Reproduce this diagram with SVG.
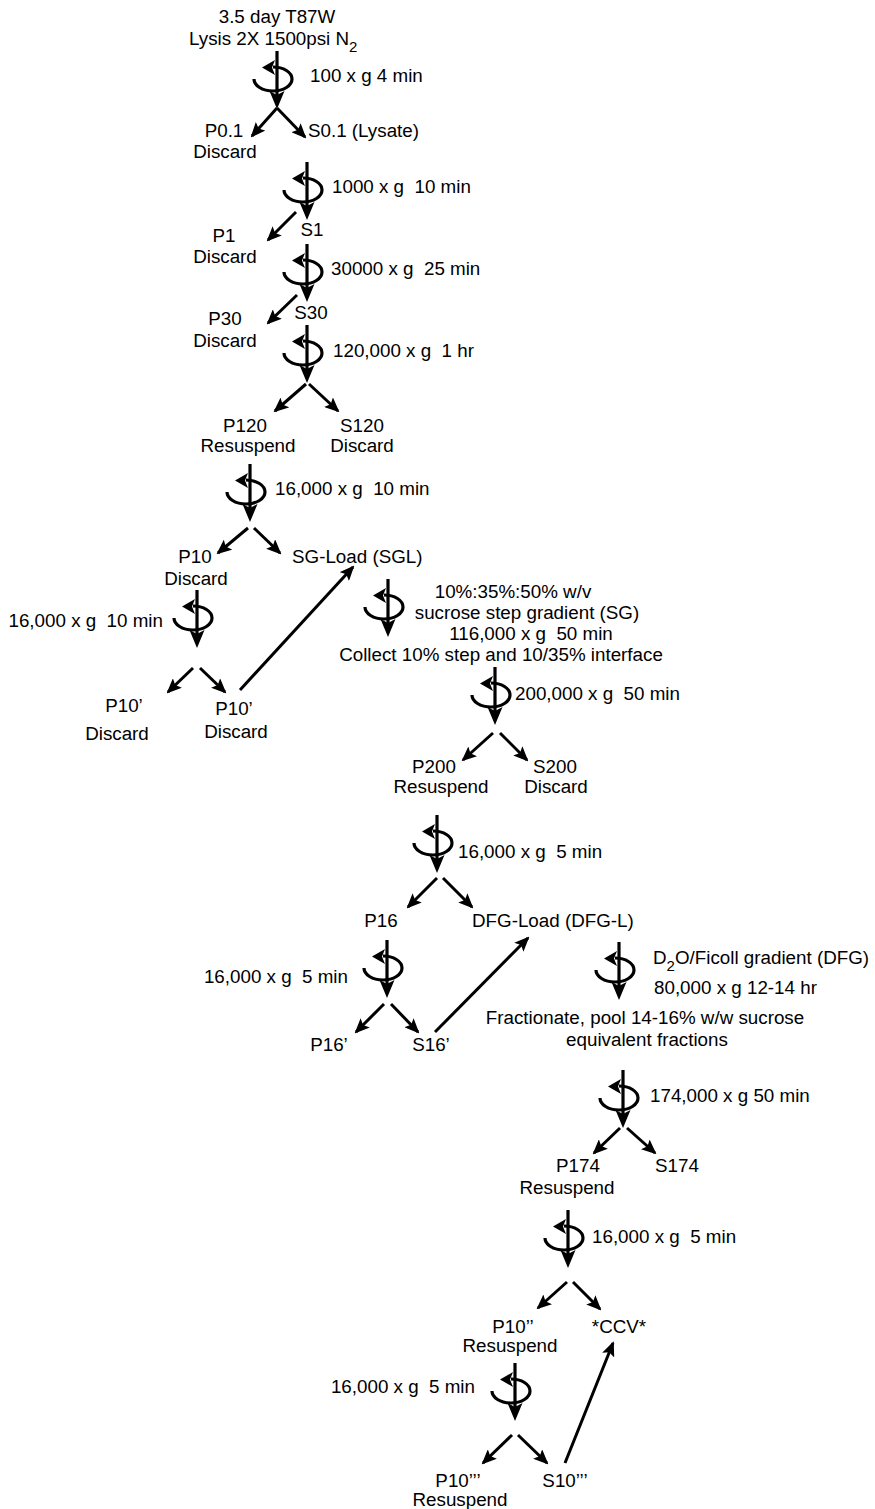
<svg xmlns="http://www.w3.org/2000/svg" xmlns:xlink="http://www.w3.org/1999/xlink" width="875" height="1509" viewBox="0 0 875 1509">
<style>
text{font-family:"Liberation Sans",Arial,sans-serif;font-size:18.8px;fill:#000;white-space:pre}
.m{text-anchor:middle}
.e{text-anchor:end}
.cn line{stroke:#000;stroke-width:3;fill:none}
.cf-line{stroke:#000;stroke-width:3.2;fill:none}
.cf-curl{stroke:#000;stroke-width:3.2;fill:none}
</style>
<defs>
<marker id="ah" viewBox="0 0 15 13" refX="13" refY="6.5" markerWidth="15" markerHeight="13" markerUnits="userSpaceOnUse" orient="auto">
<path d="M0,0 L15,6.5 L0,13 L3,6.5 z" fill="#000"/>
</marker>
<g id="cf">
<path class="cf-line" d="M0,0 V45"/>
<polygon points="-7.5,40 0,44 7.5,40 0,58" fill="#000"/>
<path class="cf-curl" d="M-23,28 A19,12 0 1 0 -4,16"/>
<polygon points="-15,16.5 -2,9 -5,16.5 -2,24" fill="#000"/>
</g>
</defs>

<g id="start">
<text class="m" x="277" y="23">3.5 day T87W</text>
<text x="189" y="45">Lysis 2X 1500psi N<tspan dy="7" font-size="15">2</tspan></text>
</g>

<g id="c1"><use xlink:href="#cf" x="277" y="51"/><text x="310" y="82">100 x g 4 min</text></g>
<g id="p01"><text class="m" x="224" y="137">P0.1</text><text class="m" x="225" y="158">Discard</text></g>
<g id="s01"><text x="308" y="137">S0.1 (Lysate)</text></g>

<g id="c2"><use xlink:href="#cf" x="307" y="162"/><text x="332" y="193">1000 x g  10 min</text></g>
<g id="s1"><text class="m" x="312" y="236">S1</text></g>
<g id="p1"><text class="m" x="224" y="242">P1</text><text class="m" x="225" y="263">Discard</text></g>

<g id="c3"><use xlink:href="#cf" x="307" y="244"/><text x="331" y="275">30000 x g  25 min</text></g>
<g id="s30"><text class="m" x="311" y="319">S30</text></g>
<g id="p30"><text class="m" x="225" y="325">P30</text><text class="m" x="225" y="347">Discard</text></g>

<g id="c4"><use xlink:href="#cf" x="307" y="325"/><text x="333" y="357">120,000 x g  1 hr</text></g>
<g id="p120"><text class="m" x="245" y="432">P120</text><text class="m" x="248" y="452">Resuspend</text></g>
<g id="s120"><text class="m" x="362" y="432">S120</text><text class="m" x="362" y="452">Discard</text></g>

<g id="c5"><use xlink:href="#cf" x="250" y="464"/><text x="275" y="495">16,000 x g  10 min</text></g>
<g id="p10"><text class="m" x="195" y="563">P10</text><text class="m" x="196" y="585">Discard</text></g>
<g id="sgl"><text x="292" y="563">SG-Load (SGL)</text></g>

<g id="c6"><use xlink:href="#cf" x="197" y="590"/><text class="e" x="163" y="627">16,000 x g  10 min</text></g>
<g id="p10a"><text class="m" x="124" y="712">P10’</text><text class="m" x="117" y="740">Discard</text></g>
<g id="p10b"><text class="m" x="234" y="715">P10’</text><text class="m" x="236" y="738">Discard</text></g>

<g id="c7"><use xlink:href="#cf" x="388" y="579"/>
<text class="m" x="513" y="598">10%:35%:50% w/v</text>
<text class="m" x="527" y="619">sucrose step gradient (SG)</text>
<text class="m" x="531" y="640">116,000 x g  50 min</text>
<text class="m" x="501" y="661">Collect 10% step and 10/35% interface</text></g>

<g id="c8"><use xlink:href="#cf" x="495" y="667"/><text x="515" y="700">200,000 x g  50 min</text></g>
<g id="p200"><text class="m" x="434" y="773">P200</text><text class="m" x="441" y="793">Resuspend</text></g>
<g id="s200"><text class="m" x="555" y="773">S200</text><text class="m" x="556" y="793">Discard</text></g>

<g id="c9"><use xlink:href="#cf" x="437" y="815"/><text x="458" y="858">16,000 x g  5 min</text></g>
<g id="p16"><text class="m" x="381" y="927">P16</text></g>
<g id="dfgl"><text x="472" y="927">DFG-Load (DFG-L)</text></g>

<g id="c10"><use xlink:href="#cf" x="387" y="940"/><text class="e" x="348" y="983">16,000 x g  5 min</text></g>
<g id="p16b"><text class="m" x="329" y="1051">P16’</text></g>
<g id="s16b"><text class="m" x="431" y="1051">S16’</text></g>

<g id="c11"><use xlink:href="#cf" x="619" y="942"/>
<text x="653" y="964">D<tspan dy="7" font-size="15">2</tspan><tspan dy="-7">O/Ficoll gradient (DFG)</tspan></text>
<text x="654" y="994">80,000 x g 12-14 hr</text>
<text class="m" x="645" y="1024">Fractionate, pool 14-16% w/w sucrose</text>
<text class="m" x="647" y="1046">equivalent fractions</text></g>

<g id="c12"><use xlink:href="#cf" x="623" y="1070"/><text x="650" y="1102">174,000 x g 50 min</text></g>
<g id="p174"><text class="m" x="578" y="1172">P174</text><text class="m" x="567" y="1194">Resuspend</text></g>
<g id="s174"><text class="m" x="677" y="1172">S174</text></g>

<g id="c13"><use xlink:href="#cf" x="568" y="1210"/><text x="592" y="1243">16,000 x g  5 min</text></g>
<g id="p10c"><text class="m" x="513" y="1333">P10’’</text><text class="m" x="510" y="1352">Resuspend</text></g>
<g id="ccv"><text class="m" x="619" y="1333">*CCV*</text></g>

<g id="c14"><use xlink:href="#cf" x="515" y="1363"/><text class="e" x="475" y="1393">16,000 x g  5 min</text></g>
<g id="p10d"><text class="m" x="458" y="1487">P10’’’</text><text class="m" x="460" y="1506">Resuspend</text></g>
<g id="s10d"><text class="m" x="565" y="1487">S10’’’</text></g>

<g id="connectors" class="cn">
<line x1="277" y1="108" x2="252" y2="136" marker-end="url(#ah)"/>
<line x1="277" y1="108" x2="305" y2="137" marker-end="url(#ah)"/>
<line x1="296" y1="212" x2="268" y2="240" marker-end="url(#ah)"/>
<line x1="297" y1="295" x2="268" y2="323" marker-end="url(#ah)"/>
<line x1="306" y1="384" x2="275" y2="411" marker-end="url(#ah)"/>
<line x1="309" y1="384" x2="338" y2="411" marker-end="url(#ah)"/>
<line x1="248" y1="528" x2="218" y2="553" marker-end="url(#ah)"/>
<line x1="254" y1="528" x2="280" y2="553" marker-end="url(#ah)"/>
<line x1="193" y1="668" x2="168" y2="692" marker-end="url(#ah)"/>
<line x1="200" y1="668" x2="225" y2="692" marker-end="url(#ah)"/>
<line x1="240" y1="690" x2="353" y2="567" marker-end="url(#ah)"/>
<line x1="493" y1="733" x2="463" y2="760" marker-end="url(#ah)"/>
<line x1="500" y1="733" x2="527" y2="760" marker-end="url(#ah)"/>
<line x1="437" y1="878" x2="408" y2="907" marker-end="url(#ah)"/>
<line x1="443" y1="878" x2="472" y2="907" marker-end="url(#ah)"/>
<line x1="384" y1="1004" x2="356" y2="1032" marker-end="url(#ah)"/>
<line x1="391" y1="1004" x2="418" y2="1032" marker-end="url(#ah)"/>
<line x1="435" y1="1032" x2="528" y2="938" marker-end="url(#ah)"/>
<line x1="620" y1="1128" x2="594" y2="1153" marker-end="url(#ah)"/>
<line x1="627" y1="1128" x2="655" y2="1153" marker-end="url(#ah)"/>
<line x1="567" y1="1282" x2="538" y2="1308" marker-end="url(#ah)"/>
<line x1="573" y1="1282" x2="600" y2="1309" marker-end="url(#ah)"/>
<line x1="512" y1="1435" x2="483" y2="1463" marker-end="url(#ah)"/>
<line x1="518" y1="1435" x2="547" y2="1463" marker-end="url(#ah)"/>
<line x1="565" y1="1463" x2="613" y2="1343" marker-end="url(#ah)"/>
</g>
</svg>
